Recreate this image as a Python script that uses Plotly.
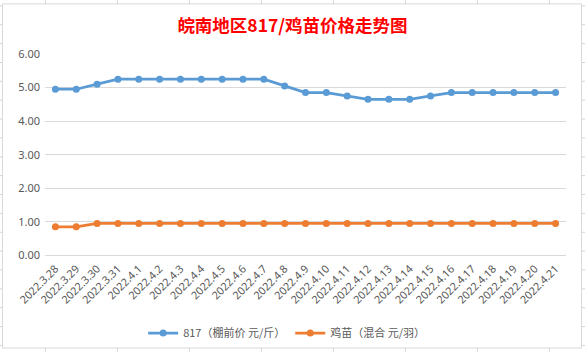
import plotly.graph_objects as go

dates = ["2022.3.28", "2022.3.29", "2022.3.30", "2022.3.31", "2022.4.1", "2022.4.2",
         "2022.4.3", "2022.4.4", "2022.4.5", "2022.4.6", "2022.4.7", "2022.4.8",
         "2022.4.9", "2022.4.10", "2022.4.11", "2022.4.12", "2022.4.13", "2022.4.14",
         "2022.4.15", "2022.4.16", "2022.4.17", "2022.4.18", "2022.4.19", "2022.4.20",
         "2022.4.21"]
price_817 = [4.95, 4.95, 5.10, 5.25, 5.25, 5.25, 5.25, 5.25, 5.25, 5.25, 5.25, 5.05,
             4.85, 4.85, 4.75, 4.65, 4.65, 4.65, 4.75, 4.85, 4.85, 4.85, 4.85, 4.85, 4.85]
price_chick = [0.85, 0.85, 0.95, 0.95, 0.95, 0.95, 0.95, 0.95, 0.95, 0.95, 0.95, 0.95,
               0.95, 0.95, 0.95, 0.95, 0.95, 0.95, 0.95, 0.95, 0.95, 0.95, 0.95, 0.95, 0.95]
name_817 = "817（棚前价 元/斤）"
name_chick = "鸡苗（混合 元/羽）"
title = "皖南地区817/鸡苗价格走势图"

W, H = 585, 354
ML, MR, MT, MB = 45, 19, 54, 97
PW, PH = W - ML - MR, H - MT - MB

def px(x):
    return (x - ML) / PW

def py(y):
    return (H - MB - y) / PH

FONT = "Noto Sans CJK SC, Noto Sans, sans-serif"
GRAY = "#595959"
GRID = "#D9D9D9"

fig = go.Figure()
fig.add_trace(go.Scatter(x=dates, y=price_817, name=name_817, mode="lines+markers",
                         line=dict(color="#5B9BD5", width=2.75),
                         marker=dict(color="#5B9BD5", size=7)))
fig.add_trace(go.Scatter(x=dates, y=price_chick, name=name_chick, mode="lines+markers",
                         line=dict(color="#ED7D31", width=2.75),
                         marker=dict(color="#ED7D31", size=7)))

shapes = []
# chart area border
shapes.append(dict(type="rect", xref="paper", yref="paper",
                   x0=px(2.5), x1=px(581.5), y0=py(350.5), y1=py(3.5),
                   line=dict(color=GRID, width=1), layer="below"))
# spreadsheet cell lines visible around chart
SHEET = "#D4D4DC"
cols = [45.5, 117.5, 189.5, 261.5, 333.5, 405.5, 477.5, 549.5]
for c in cols:
    shapes.append(dict(type="line", xref="paper", yref="paper", x0=px(c), x1=px(c),
                       y0=py(0), y1=py(3), line=dict(color=SHEET, width=1)))
    shapes.append(dict(type="line", xref="paper", yref="paper", x0=px(c), x1=px(c),
                       y0=py(351), y1=py(354), line=dict(color=SHEET, width=1)))
for k in range(19):
    r = 5.5 + 19.02 * k
    shapes.append(dict(type="line", xref="paper", yref="paper", x0=px(0), x1=px(2.5),
                       y0=py(r), y1=py(r), line=dict(color=SHEET, width=1)))
    shapes.append(dict(type="line", xref="paper", yref="paper", x0=px(581.5), x1=px(585),
                       y0=py(r), y1=py(r), line=dict(color=SHEET, width=1)))

fig.update_layout(
    width=W, height=H,
    margin=dict(l=ML, r=MR, t=MT, b=MB),
    paper_bgcolor="white", plot_bgcolor="white",
    font=dict(family=FONT, color=GRAY, size=11),
    title=dict(text="<b>" + title + "</b>", x=0.5, xref="container", xanchor="center",
               y=1 - 26 / H, yref="container", yanchor="middle",
               font=dict(family=FONT, size=17.5, color="#FF0000")),
    showlegend=True,
    legend=dict(orientation="h", xref="container", yref="container",
                x=0.49, xanchor="center", y=1 - 333 / H, yanchor="middle",
                font=dict(family=FONT, size=11, color=GRAY),
                itemwidth=30, bgcolor="rgba(0,0,0,0)"),
    xaxis=dict(type="category", showgrid=False, showline=True, linecolor=GRID,
               ticks="", tickangle=-45, tickfont=dict(family="Noto Sans, sans-serif", size=10.8, color=GRAY),
               ticklabelstandoff=2,
               range=[-0.5, len(dates) - 0.5], fixedrange=True),
    yaxis=dict(range=[0, 6], dtick=1, tickformat=".2f", showgrid=True, gridcolor=GRID,
               zeroline=False, showline=False, ticks="",
               tickfont=dict(family="Noto Sans, sans-serif", size=11, color=GRAY),
               ticklabelstandoff=4, fixedrange=True),
    shapes=shapes,
)

fig.write_html("out.html")
